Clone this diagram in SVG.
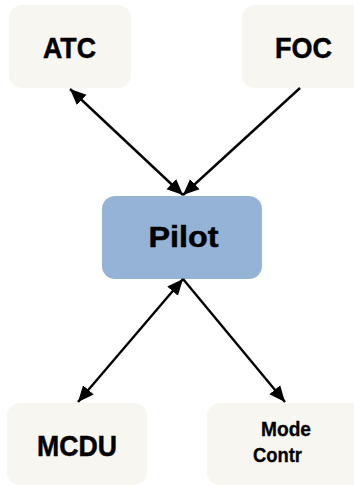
<svg xmlns="http://www.w3.org/2000/svg" width="354" height="485" viewBox="0 0 354 485">
  <style>
    .box { fill: #F7F6F1; }
    .pilot { fill: #95B3D7; }
    .lbl { font-family: "Liberation Sans", Arial, sans-serif; font-weight: bold; fill: #000; text-anchor: middle; stroke: #000; stroke-width: 0.5; }
    .big { font-size: 30px; }
    .small { font-size: 19.5px; stroke-width: 0.3; }
    .link { stroke: #000; stroke-width: 2.4; fill: none; }
  </style>
  <defs>
    <marker id="arrow" markerUnits="userSpaceOnUse" markerWidth="18" markerHeight="16" refX="16" refY="8" orient="auto-start-reverse">
      <path d="M0,1 L16,8 L0,15 Z" fill="#000"/>
    </marker>
  </defs>

  <rect width="354" height="485" fill="#fff"/>

  <g id="atc">
    <rect class="box" x="9" y="5" width="122" height="83" rx="13"/>
    <text class="lbl big" x="69.5" y="58" textLength="53" lengthAdjust="spacingAndGlyphs">ATC</text>
  </g>

  <g id="foc">
    <rect class="box" x="242" y="5" width="130" height="83" rx="13"/>
    <text class="lbl big" x="303.5" y="58" textLength="57" lengthAdjust="spacingAndGlyphs">FOC</text>
  </g>

  <g id="pilot">
    <rect class="pilot" x="102" y="196" width="160" height="83" rx="13"/>
    <text class="lbl big" x="183.5" y="247" textLength="70" lengthAdjust="spacingAndGlyphs">Pilot</text>
  </g>

  <g id="mcdu">
    <rect class="box" x="7" y="403" width="140" height="82" rx="13"/>
    <text class="lbl big" x="77" y="456" textLength="80" lengthAdjust="spacingAndGlyphs">MCDU</text>
  </g>

  <g id="mode-contr">
    <rect class="box" x="207" y="403" width="160" height="82" rx="13"/>
    <text class="lbl small" x="286" y="436" textLength="50" lengthAdjust="spacingAndGlyphs">Mode</text>
    <text class="lbl small" x="277.5" y="462" textLength="49" lengthAdjust="spacingAndGlyphs">Contr</text>
  </g>

  <g id="connectors">
    <line class="link" x1="70" y1="89" x2="183" y2="195" marker-start="url(#arrow)" marker-end="url(#arrow)"/>
    <line class="link" x1="300" y1="88" x2="183" y2="195" marker-end="url(#arrow)"/>
    <line class="link" x1="183" y1="279" x2="78" y2="402" marker-start="url(#arrow)" marker-end="url(#arrow)"/>
    <line class="link" x1="183" y1="279" x2="285" y2="402" marker-end="url(#arrow)"/>
  </g>
</svg>
